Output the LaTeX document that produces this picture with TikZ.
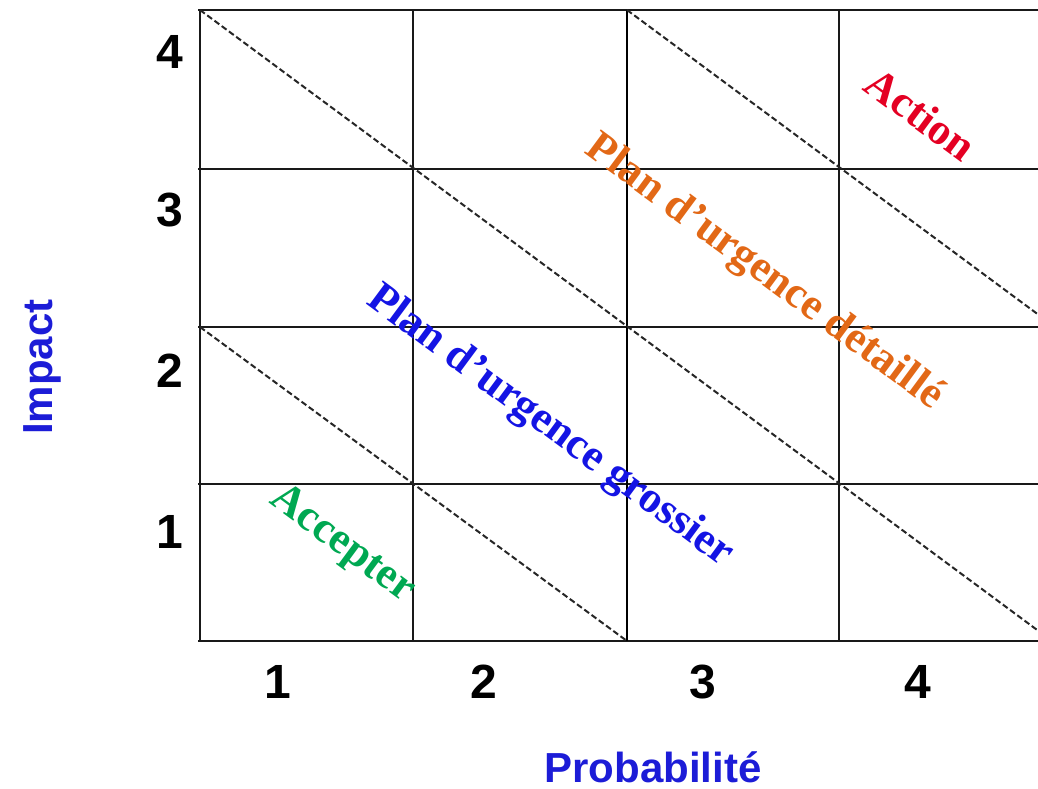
\documentclass[tikz,border=0pt]{standalone}
\usepackage{fontspec}
\setmainfont{Liberation Serif}
\newfontfamily\arialfont{Liberation Sans}
\definecolor{actred}{RGB}{228,0,35}
\definecolor{planorange}{RGB}{226,104,22}
\definecolor{planblue}{RGB}{20,20,228}
\definecolor{accgreen}{RGB}{0,168,82}
\definecolor{axisblue}{RGB}{28,28,215}
\begin{document}
\begin{tikzpicture}[x=1pt,y=-1pt,
  gridline/.style={line width=1.6pt, black!90},
  thickline/.style={line width=2.8pt, black},
  diagline/.style={line width=2pt, dash pattern=on 6pt off 3pt, black!85},
  zone/.style={font=\fontsize{44}{50}\selectfont\bfseries, rotate=-36.5, inner sep=0pt},
  ticklabel/.style={font=\arialfont\fontsize{48}{54}\selectfont\bfseries, inner sep=0pt},
  axislabel/.style={font=\arialfont\fontsize{42}{48}\selectfont\bfseries, text=axisblue, inner sep=0pt}]
\useasboundingbox (0,0) rectangle (1038,789);
\clip (0,0) rectangle (1038,789);
% grid coordinates
\foreach \x/\n in {200/a,413/b,627/c,839/d} {
  \coordinate (vt\n) at (\x,10);
  \coordinate (vb\n) at (\x,641);
}
\foreach \y/\n in {10/1,169/2,327/3,484/4,641/5} {
  \coordinate (hl\n) at (198,\y);
  \coordinate (hr\n) at (1038,\y);
}
% horizontal lines
\foreach \n in {1,...,5} { \draw[gridline] (hl\n) -- (hr\n); }
% vertical lines
\draw[gridline] (vta) -- (vba);
\draw[gridline] (vtb) -- (vbb);
\draw[thickline] (vtc) -- (vbc);
\draw[gridline] (vtd) -- (vbd);
% dashed diagonals
\coordinate (d1s) at (200,10);  \coordinate (d1e) at (1038,630.6);
\coordinate (d2s) at (200,327); \coordinate (d2e) at (627,641);
\coordinate (d3s) at (627,10);  \coordinate (d3e) at (1038,314.4);
\draw[diagline] (d1s) -- (d1e);
\draw[diagline] (d2s) -- (d2e);
\draw[diagline] (d3s) -- (d3e);
% zone labels
\node[zone, text=actred] (action) at (921,114) {Action};
\node[zone, text=planorange] (detail) at (764,273) {Plan d’urgence détaillé};
\node[zone, text=planblue] (gross) at (550,427) {Plan d’urgence grossier};
\node[zone, text=accgreen] (accept) at (342,545) {Accepter};
% tick labels
\node[ticklabel] (y4) at (170,52) {4};
\node[ticklabel] (y3) at (170,210) {3};
\node[ticklabel] (y2) at (170,371) {2};
\node[ticklabel] (y1) at (170,532) {1};
\node[ticklabel] (x1) at (278,682) {1};
\node[ticklabel] (x2) at (484,682) {2};
\node[ticklabel] (x3) at (703,682) {3};
\node[ticklabel] (x4) at (918,682) {4};
% axis labels
\node[axislabel, rotate=90, anchor=base] (impact) at (52,367) {Impact};
\node[axislabel, anchor=base] (proba) at (653,782) {Probabilité};
\end{tikzpicture}
\end{document}
